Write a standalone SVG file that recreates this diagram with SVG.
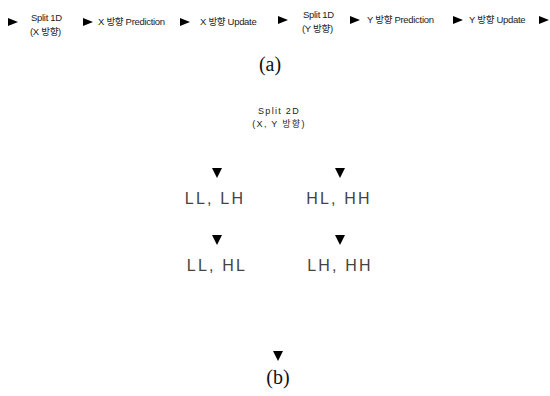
<svg xmlns="http://www.w3.org/2000/svg" width="550" height="396" viewBox="0 0 550 396">
  <style>
    .s { font-family: "Liberation Sans", "Noto Sans CJK KR", sans-serif; font-size: 9.5px; fill: #222; letter-spacing: -0.3px; }
    .m { font-family: "Liberation Sans", "Noto Sans CJK KR", sans-serif; font-size: 9px; fill: #222; letter-spacing: 1.3px; }
    .l { font-family: "Liberation Sans", "Noto Sans CJK KR", sans-serif; font-size: 16px; fill: #444; letter-spacing: 2.2px; }
    .cap { font-family: "Liberation Serif", serif; font-size: 20px; fill: #111; }
    .tri { fill: #000; }
  </style>
  <defs>
    <polygon id="ar" class="tri" points="-5,-4 5,0 -5,4"/>
    <polygon id="ad" class="tri" points="-5,-5 5,-5 0,5"/>
  </defs>

  <!-- arrowheads between stages -->
  <g id="connectors">
    <use href="#ar" x="13" y="22"/>
    <use href="#ar" x="88" y="22"/>
    <use href="#ar" x="185" y="22"/>
    <use href="#ar" x="283" y="20"/>
    <use href="#ar" x="355" y="20"/>
    <use href="#ar" x="458" y="20"/>
    <use href="#ar" x="544" y="20"/>
    <use href="#ad" x="217" y="173"/>
    <use href="#ad" x="340" y="173"/>
    <use href="#ad" x="217" y="240"/>
    <use href="#ad" x="340" y="240"/>
    <use href="#ad" x="278" y="356"/>
  </g>

  <!-- (a) 1D lifting pipeline -->
  <g id="split1d-x">
    <text class="s" x="31" y="21">Split 1D</text>
    <text class="s" x="30" y="35">(X 방향)</text>
  </g>
  <g id="pred-x"><text class="s" x="98" y="25">X 방향 Prediction</text></g>
  <g id="update-x"><text class="s" x="200" y="25">X 방향 Update</text></g>
  <g id="split1d-y">
    <text class="s" x="303" y="18">Split 1D</text>
    <text class="s" x="302" y="32">(Y 방향)</text>
  </g>
  <g id="pred-y"><text class="s" x="367" y="23">Y 방향 Prediction</text></g>
  <g id="update-y"><text class="s" x="469" y="23">Y 방향 Update</text></g>

  <text class="cap" x="270" y="71" text-anchor="middle">(a)</text>

  <!-- (b) 2D split -->
  <g id="split2d">
    <text class="m" x="279" y="114" text-anchor="middle">Split 2D</text>
    <text class="m" x="279" y="127" text-anchor="middle">(X, Y 방향)</text>
  </g>
  <g id="ll-lh"><text class="l" x="215" y="204" text-anchor="middle">LL, LH</text></g>
  <g id="hl-hh"><text class="l" x="339" y="204" text-anchor="middle">HL, HH</text></g>
  <g id="ll-hl"><text class="l" x="217" y="271" text-anchor="middle">LL, HL</text></g>
  <g id="lh-hh"><text class="l" x="340" y="271" text-anchor="middle">LH, HH</text></g>

  <text class="cap" x="278" y="384" text-anchor="middle">(b)</text>
</svg>
